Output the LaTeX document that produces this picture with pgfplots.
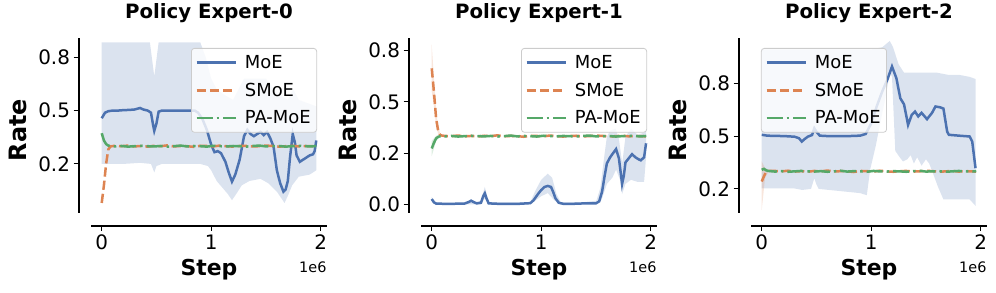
\documentclass[border=0pt]{standalone}
\usepackage{fontspec}
\setmainfont{DejaVu Sans}
\usepackage{pgfplots}
\pgfplotsset{compat=1.18}
\usepgfplotslibrary{fillbetween}
\definecolor{cMoE}{HTML}{4C72B0}
\definecolor{cSMoE}{HTML}{DD8452}
\definecolor{cPA}{HTML}{55A868}
\pgfplotsset{
 myax/.style={
  scale only axis, width=236bp, height=175bp,
  clip mode=individual,
  axis x line*=bottom, axis y line*=left,
  axis x line shift=13bp, axis y line shift=12.5bp,
  axis line style={line width=2bp, black, -},
  xmin=-0.098, xmax=2.058,
  xtick={0,1,2}, xticklabels={0,1,2},
  tick align=outside, major tick length=5bp,
  every tick/.style={black, line width=1.1bp},
  /pgf/number format/assume math mode=true,
  tick label style={font=\fontsize{20}{20}\selectfont},
  title style={font=\bfseries\fontsize{19.8}{20}\selectfont, at={(axis description cs:0.5,1.1086)}, anchor=center},
  xlabel={Step}, ylabel={Rate},
  xlabel style={font=\bfseries\fontsize{22}{22}\selectfont, at={(axis description cs:0.5,-0.3257)}, anchor=center},
  ylabel style={font=\bfseries\fontsize{24}{24}\selectfont, at={(axis description cs:-0.309,0.474)}, anchor=center},
  legend style={font=\fontsize{18}{18}\selectfont, draw=black!20, rounded corners=3bp, fill=white, fill opacity=0.8, text opacity=1, line width=0.8bp, inner xsep=4bp, inner ysep=5bp, row sep=9bp, cells={anchor=west}, /tikz/every odd column/.append style={column sep=6bp}},
  legend image code/.code={\draw[#1] (0bp,0bp) -- (39bp,0bp);},
  legend cell align=left,
 },
 moe/.style={cMoE, line width=2.5bp},
 smoe/.style={cSMoE, line width=2.5bp, dash pattern=on 9.25bp off 4bp},
 pa/.style={cPA, line width=2.5bp, dash pattern=on 16bp off 4bp on 2.5bp off 4bp},
}
\begin{document}
\begin{tikzpicture}
% ---------------- Panel 1
\begin{axis}[myax, at={(91bp,80bp)}, anchor=south west,
  ymin=0.02, ymax=0.84, ytick={0.25,0.5,0.75}, yticklabels={0.2,0.5,0.8},
  title={Policy Expert-0},
  legend style={at={(0.958,0.943)}, anchor=north east}]
\addplot[name path=u0, draw=none, forget plot] coordinates {(0,0.82) (0.2,0.82) (0.44,0.82) (0.46,0.74) (0.48,0.66) (0.5,0.74) (0.52,0.82) (0.9,0.82) (0.95,0.75) (1.0,0.65) (1.05,0.6) (1.1,0.58) (1.2,0.55) (1.3,0.65) (1.4,0.65) (1.5,0.65) (1.6,0.58) (1.7,0.55) (1.75,0.6) (1.8,0.55) (1.96,0.52)};
\addplot[name path=l0, draw=none, forget plot] coordinates {(0,0.25) (0.2,0.25) (0.35,0.255) (0.45,0.25) (0.48,0.21) (0.5,0.24) (0.55,0.25) (0.9,0.25) (0.97,0.24) (1.0,0.22) (1.05,0.17) (1.1,0.14) (1.15,0.11) (1.19,0.08) (1.23,0.11) (1.28,0.15) (1.35,0.17) (1.45,0.18) (1.52,0.16) (1.6,0.12) (1.67,0.067) (1.7,0.1) (1.74,0.15) (1.8,0.19) (1.9,0.2) (1.96,0.22)};
\addplot[cMoE, fill opacity=0.2, draw=none, forget plot] fill between[of=u0 and l0];
\addplot[moe] coordinates {(0,0.464) (0.03,0.49) (0.06,0.497) (0.1,0.5) (0.15,0.5) (0.2,0.502) (0.25,0.503) (0.3,0.505) (0.35,0.512) (0.38,0.505) (0.42,0.5) (0.45,0.49) (0.47,0.43) (0.48,0.405) (0.5,0.44) (0.52,0.495) (0.55,0.5) (0.6,0.5) (0.7,0.5) (0.8,0.5) (0.85,0.5) (0.88,0.49) (0.92,0.46) (0.96,0.41) (1.0,0.34) (1.03,0.305) (1.06,0.31) (1.09,0.3) (1.13,0.26) (1.16,0.21) (1.19,0.167) (1.22,0.2) (1.26,0.27) (1.3,0.38) (1.33,0.41) (1.36,0.39) (1.39,0.38) (1.42,0.39) (1.45,0.4) (1.48,0.385) (1.51,0.4) (1.54,0.37) (1.57,0.33) (1.6,0.22) (1.63,0.16) (1.66,0.12) (1.68,0.13) (1.7,0.17) (1.72,0.28) (1.745,0.39) (1.765,0.35) (1.78,0.29) (1.81,0.26) (1.84,0.27) (1.87,0.28) (1.9,0.29) (1.93,0.295) (1.945,0.31) (1.96,0.36)};
\addlegendentry{MoE}
\addplot[smoe] coordinates {(0,0.067) (0.02,0.15) (0.04,0.25) (0.06,0.318) (0.08,0.332) (0.12,0.335) (0.18,0.333) (0.24,0.336) (0.30,0.332) (0.36,0.334) (0.42,0.331) (0.48,0.335) (0.54,0.333) (0.60,0.337) (0.66,0.332) (0.72,0.334) (0.78,0.333) (0.84,0.330) (0.90,0.335) (0.96,0.334) (1.02,0.332) (1.08,0.336) (1.14,0.333) (1.20,0.331) (1.26,0.334) (1.32,0.335) (1.38,0.332) (1.44,0.333) (1.50,0.336) (1.56,0.334) (1.62,0.331) (1.68,0.333) (1.74,0.335) (1.80,0.332) (1.86,0.334) (1.92,0.333) (1.96,0.332)};
\addlegendentry{SMoE}
\addplot[pa] coordinates {(0,0.394) (0.02,0.36) (0.04,0.343) (0.06,0.336) (0.08,0.334) (0.12,0.332) (0.18,0.334) (0.24,0.331) (0.30,0.333) (0.36,0.335) (0.42,0.333) (0.48,0.332) (0.54,0.334) (0.60,0.331) (0.66,0.333) (0.72,0.336) (0.78,0.332) (0.84,0.334) (0.90,0.333) (0.96,0.331) (1.02,0.335) (1.08,0.333) (1.14,0.332) (1.20,0.334) (1.26,0.333) (1.32,0.331) (1.38,0.334) (1.44,0.336) (1.50,0.332) (1.56,0.333) (1.62,0.334) (1.68,0.331) (1.74,0.333) (1.80,0.335) (1.86,0.333) (1.92,0.332) (1.96,0.334)};
\addlegendentry{PA-MoE}
\node[font=\fontsize{14.5}{14.5}\selectfont, anchor=center] at (axis description cs:0.94,-0.309) {1e6};
\end{axis}
% ---------------- Panel 2
\begin{axis}[myax, at={(421bp,80bp)}, anchor=south west,
  ymin=-0.042, ymax=0.812, ytick={0,0.25,0.5,0.75}, yticklabels={0.0,0.2,0.5,0.8},
  title={Policy Expert-1},
  legend style={at={(0.958,0.943)}, anchor=north east}]
\addplot[name path=u1, draw=none, forget plot] coordinates {(0,0.035) (0.04,0.008) (0.3,0.008) (0.36,0.025) (0.41,0.01) (0.45,0.02) (0.485,0.085) (0.52,0.01) (0.9,0.01) (0.95,0.07) (1.0,0.12) (1.06,0.15) (1.1,0.13) (1.14,0.05) (1.18,0.01) (1.5,0.01) (1.54,0.08) (1.58,0.25) (1.6,0.33) (1.63,0.36) (1.68,0.37) (1.71,0.32) (1.74,0.2) (1.77,0.33) (1.82,0.37) (1.88,0.34) (1.94,0.35) (1.958,0.36)};
\addplot[name path=l1, draw=none, forget plot] coordinates {(0,0.018) (0.04,0) (0.3,0) (0.45,0) (0.485,0.03) (0.52,0) (0.9,0) (1.0,0.04) (1.06,0.055) (1.12,0.02) (1.18,0) (1.55,0.02) (1.6,0.1) (1.65,0.13) (1.684,0.17) (1.72,0.12) (1.739,0.05) (1.77,0.1) (1.82,0.12) (1.88,0.11) (1.94,0.11) (1.958,0.23)};
\addplot[cMoE, fill opacity=0.2, draw=none, forget plot] fill between[of=u1 and l1];
\addplot[name path=su1, draw=none, forget plot] coordinates {(0,0.78) (0.02,0.62) (0.04,0.46) (0.06,0.37) (0.08,0.345) (0.1,0.338)};
\addplot[name path=sl1, draw=none, forget plot] coordinates {(0,0.55) (0.02,0.48) (0.04,0.38) (0.06,0.34) (0.08,0.33) (0.1,0.33)};
\addplot[cSMoE, fill opacity=0.2, draw=none, forget plot] fill between[of=su1 and sl1];
\addplot[name path=pu1, draw=none, forget plot] coordinates {(0,0.31) (0.04,0.335) (0.08,0.336)};
\addplot[name path=pl1, draw=none, forget plot] coordinates {(0,0.235) (0.04,0.31) (0.08,0.33)};
\addplot[cPA, fill opacity=0.2, draw=none, forget plot] fill between[of=pu1 and pl1];
\addplot[moe] coordinates {(0,0.026) (0.02,0.01) (0.04,0.004) (0.1,0.003) (0.2,0.003) (0.3,0.004) (0.34,0.012) (0.36,0.018) (0.38,0.012) (0.41,0.005) (0.45,0.008) (0.47,0.04) (0.485,0.054) (0.5,0.03) (0.52,0.005) (0.6,0.003) (0.7,0.003) (0.8,0.003) (0.9,0.006) (0.93,0.02) (0.97,0.05) (1.0,0.07) (1.03,0.085) (1.06,0.09) (1.09,0.085) (1.11,0.06) (1.13,0.03) (1.16,0.008) (1.2,0.003) (1.3,0.003) (1.4,0.005) (1.5,0.005) (1.53,0.015) (1.556,0.062) (1.58,0.14) (1.6,0.2) (1.63,0.23) (1.65,0.245) (1.684,0.27) (1.71,0.225) (1.739,0.1) (1.755,0.14) (1.77,0.205) (1.80,0.225) (1.83,0.245) (1.86,0.23) (1.89,0.22) (1.91,0.215) (1.94,0.23) (1.958,0.298)};
\addlegendentry{MoE}
\addplot[smoe] coordinates {(0,0.664) (0.02,0.55) (0.04,0.42) (0.06,0.355) (0.08,0.337) (0.12,0.334) (0.18,0.333) (0.24,0.336) (0.30,0.332) (0.36,0.334) (0.42,0.331) (0.48,0.335) (0.54,0.333) (0.60,0.337) (0.66,0.332) (0.72,0.334) (0.78,0.333) (0.84,0.330) (0.90,0.335) (0.96,0.334) (1.02,0.332) (1.08,0.336) (1.14,0.333) (1.20,0.331) (1.26,0.334) (1.32,0.335) (1.38,0.332) (1.44,0.333) (1.50,0.336) (1.56,0.334) (1.62,0.331) (1.68,0.333) (1.74,0.335) (1.80,0.332) (1.86,0.334) (1.92,0.333) (1.96,0.332)};
\addlegendentry{SMoE}
\addplot[pa] coordinates {(0,0.273) (0.02,0.3) (0.04,0.322) (0.06,0.33) (0.08,0.333) (0.12,0.332) (0.18,0.334) (0.24,0.331) (0.30,0.333) (0.36,0.335) (0.42,0.333) (0.48,0.332) (0.54,0.334) (0.60,0.331) (0.66,0.333) (0.72,0.336) (0.78,0.332) (0.84,0.334) (0.90,0.333) (0.96,0.331) (1.02,0.335) (1.08,0.333) (1.14,0.332) (1.20,0.334) (1.26,0.333) (1.32,0.331) (1.38,0.334) (1.44,0.336) (1.50,0.332) (1.56,0.333) (1.62,0.334) (1.68,0.331) (1.74,0.333) (1.80,0.335) (1.86,0.333) (1.92,0.332) (1.96,0.334)};
\addlegendentry{PA-MoE}
\node[font=\fontsize{14.5}{14.5}\selectfont, anchor=center] at (axis description cs:0.94,-0.309) {1e6};
\end{axis}
% ---------------- Panel 3
\begin{axis}[myax, at={(751bp,80bp)}, anchor=south west,
  ymin=0.136, ymax=0.964, ytick={0.25,0.5,0.75}, yticklabels={0.2,0.5,0.8},
  title={Policy Expert-2},
  legend style={at={(0.042,0.943)}, anchor=north west}]
\addplot[name path=u2, draw=none, forget plot] coordinates {(0,0.91) (0.5,0.91) (1.0,0.91) (1.1,0.92) (1.17,0.95) (1.2,0.92) (1.25,0.84) (1.3,0.8) (1.4,0.8) (1.5,0.8) (1.6,0.8) (1.7,0.79) (1.8,0.79) (1.9,0.78) (1.953,0.77)};
\addplot[name path=l2, draw=none, forget plot] coordinates {(0,0.253) (0.3,0.252) (0.37,0.245) (0.45,0.25) (0.48,0.3) (0.5,0.27) (0.52,0.25) (0.9,0.23) (0.96,0.22) (0.99,0.34) (1.04,0.45) (1.09,0.58) (1.13,0.68) (1.17,0.8) (1.19,0.78) (1.22,0.43) (1.26,0.4) (1.29,0.38) (1.33,0.39) (1.36,0.41) (1.39,0.37) (1.42,0.4) (1.46,0.36) (1.5,0.39) (1.53,0.37) (1.56,0.33) (1.61,0.26) (1.66,0.2) (1.8,0.2) (1.9,0.2) (1.953,0.17)};
\addplot[cMoE, fill opacity=0.2, draw=none, forget plot] fill between[of=u2 and l2];
\addplot[name path=su2, draw=none, forget plot] coordinates {(0,0.38) (0.03,0.35) (0.06,0.34)};
\addplot[name path=sl2, draw=none, forget plot] coordinates {(0,0.15) (0.03,0.3) (0.06,0.33)};
\addplot[cSMoE, fill opacity=0.2, draw=none, forget plot] fill between[of=su2 and sl2];
\addplot[moe] coordinates {(0,0.506) (0.05,0.502) (0.1,0.501) (0.2,0.5) (0.3,0.497) (0.34,0.49) (0.366,0.474) (0.39,0.485) (0.42,0.497) (0.46,0.505) (0.48,0.537) (0.5,0.52) (0.53,0.502) (0.6,0.5) (0.7,0.5) (0.8,0.5) (0.9,0.502) (0.95,0.51) (1.0,0.56) (1.05,0.64) (1.1,0.71) (1.15,0.77) (1.19,0.829) (1.23,0.774) (1.266,0.679) (1.3,0.65) (1.337,0.553) (1.37,0.6) (1.40,0.616) (1.43,0.593) (1.46,0.61) (1.51,0.58) (1.556,0.61) (1.587,0.64) (1.63,0.636) (1.66,0.63) (1.694,0.521) (1.71,0.506) (1.8,0.502) (1.85,0.5) (1.9,0.498) (1.923,0.474) (1.953,0.348)};
\addlegendentry{MoE}
\addplot[smoe] coordinates {(0,0.285) (0.02,0.31) (0.04,0.33) (0.06,0.335) (0.12,0.335) (0.18,0.333) (0.24,0.336) (0.30,0.332) (0.36,0.334) (0.42,0.331) (0.48,0.335) (0.54,0.333) (0.60,0.337) (0.66,0.332) (0.72,0.334) (0.78,0.333) (0.84,0.330) (0.90,0.335) (0.96,0.334) (1.02,0.332) (1.08,0.336) (1.14,0.333) (1.20,0.331) (1.26,0.334) (1.32,0.335) (1.38,0.332) (1.44,0.333) (1.50,0.336) (1.56,0.334) (1.62,0.331) (1.68,0.333) (1.74,0.335) (1.80,0.332) (1.86,0.334) (1.92,0.333) (1.96,0.332)};
\addlegendentry{SMoE}
\addplot[pa] coordinates {(0,0.34) (0.02,0.345) (0.04,0.338) (0.06,0.335) (0.12,0.332) (0.18,0.334) (0.24,0.331) (0.30,0.333) (0.36,0.335) (0.42,0.333) (0.48,0.332) (0.54,0.334) (0.60,0.331) (0.66,0.333) (0.72,0.336) (0.78,0.332) (0.84,0.334) (0.90,0.333) (0.96,0.331) (1.02,0.335) (1.08,0.333) (1.14,0.332) (1.20,0.334) (1.26,0.333) (1.32,0.331) (1.38,0.334) (1.44,0.336) (1.50,0.332) (1.56,0.333) (1.62,0.334) (1.68,0.331) (1.74,0.333) (1.80,0.335) (1.86,0.333) (1.92,0.332) (1.96,0.334)};
\addlegendentry{PA-MoE}
\node[font=\fontsize{14.5}{14.5}\selectfont, anchor=center] at (axis description cs:0.94,-0.309) {1e6};
\end{axis}
\pgfresetboundingbox
\useasboundingbox (0,0) rectangle (996bp,293bp);
\end{tikzpicture}
\end{document}
